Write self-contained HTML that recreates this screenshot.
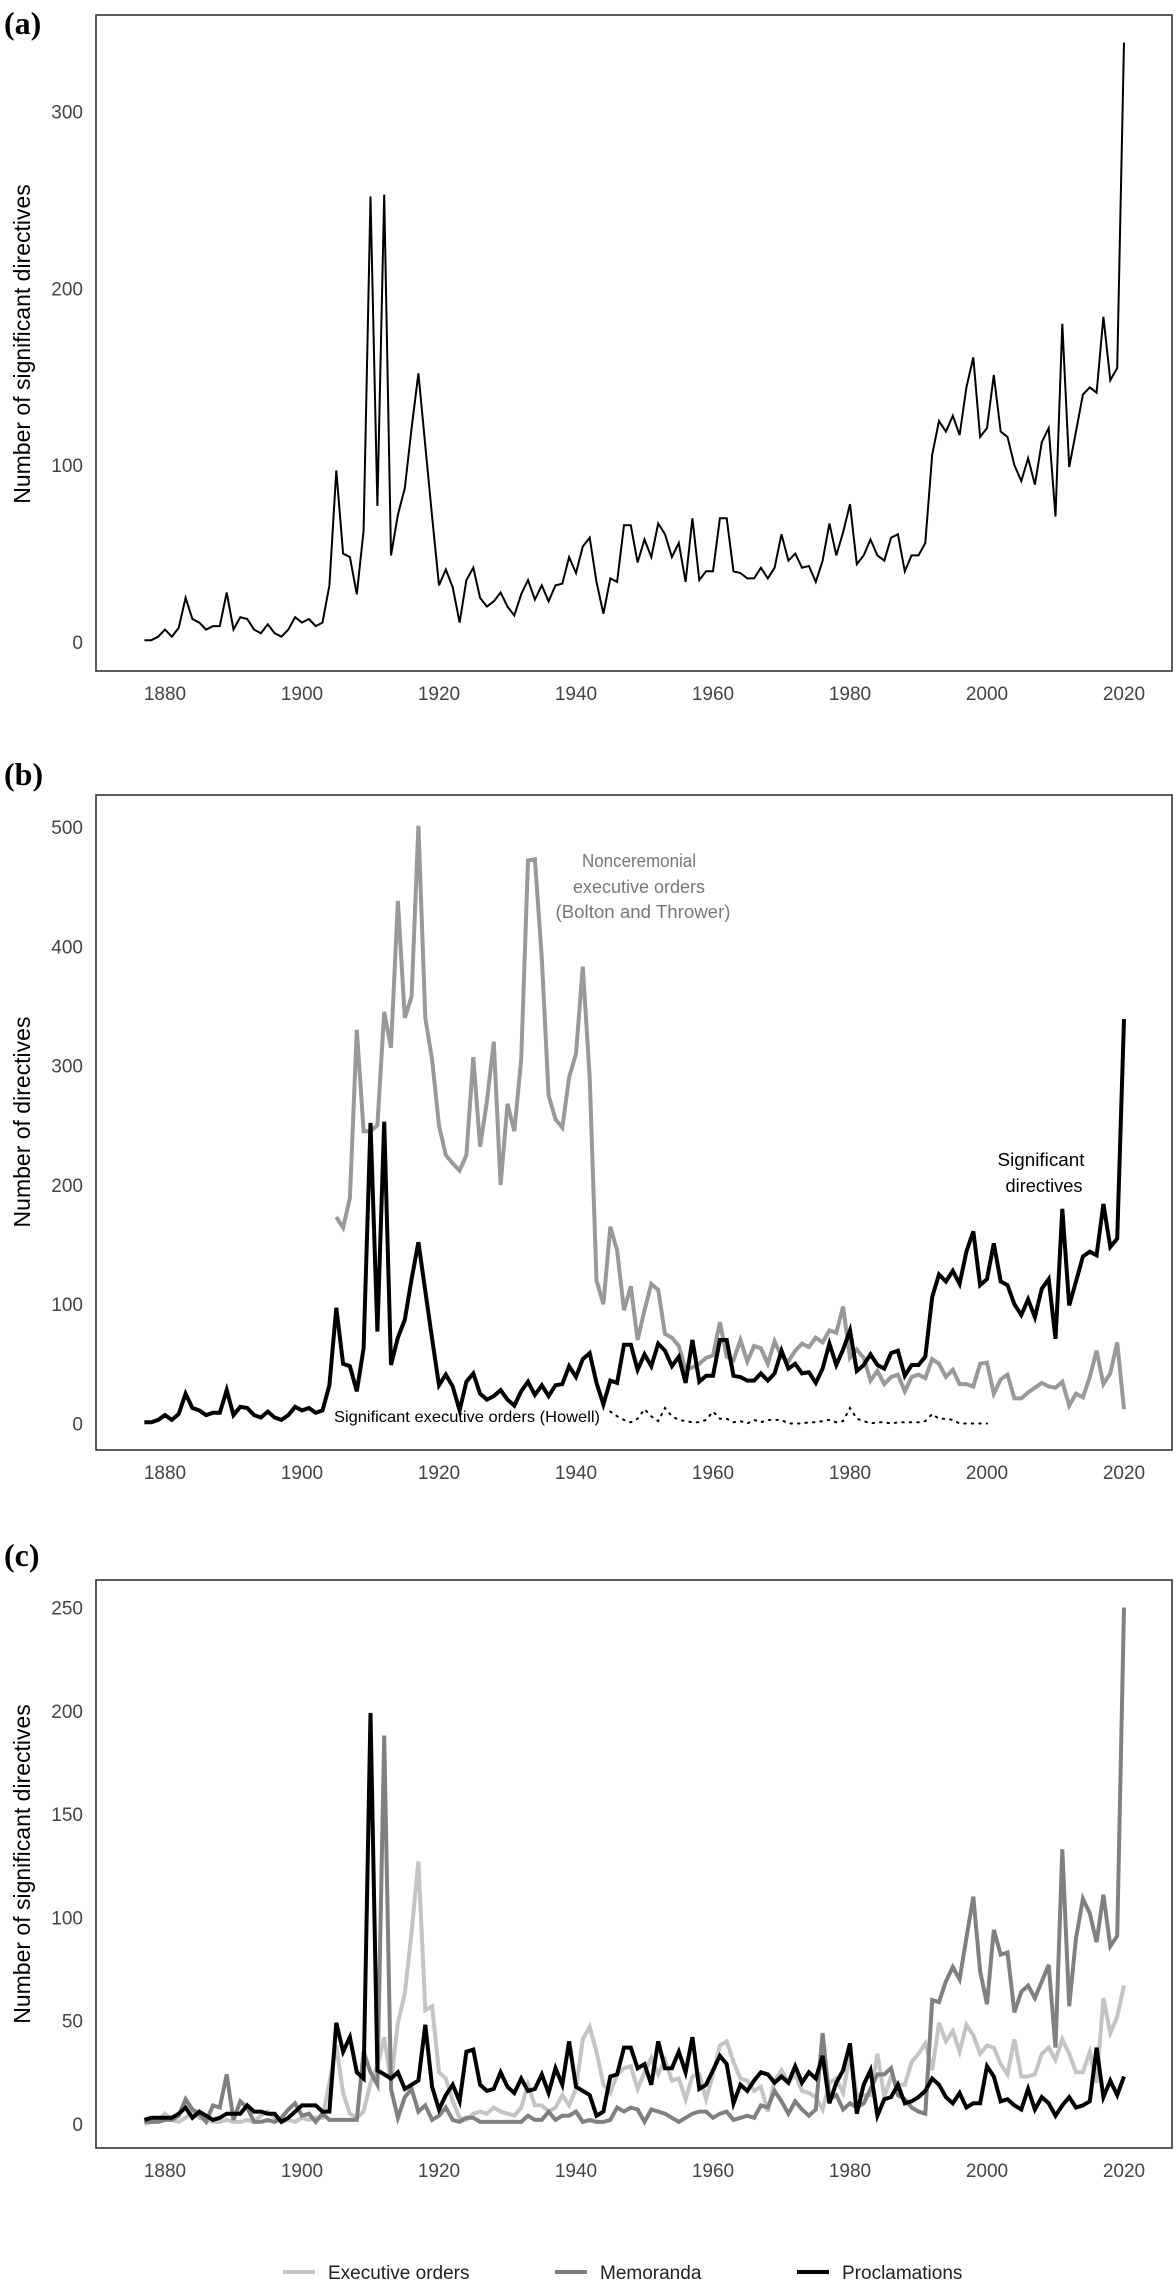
<!DOCTYPE html>
<html><head><meta charset="utf-8"><style>
html,body{margin:0;padding:0;background:#fff}
svg{display:block}
text{font-family:"Liberation Sans",Arial,sans-serif}
text.serif{font-family:"Liberation Serif","Times New Roman",serif}
</style></head><body>
<svg id="chart" width="1176" height="2281" viewBox="0 0 1176 2281" xmlns="http://www.w3.org/2000/svg"></svg>
<script>
const years = [];
for (let y = 1877; y <= 2020; y++) years.push(y);
const significant = [1,1,3,7,3,8,25,13,11,7,9,9,28,7,14,13,7,5,10,5,3,7,14,11,13,9,11,32,97,50,48,27,63,252,77,253,49,72,87,121,152,111,71,32,41,31,11,35,42,25,20,23,28,20,15,27,35,24,32,23,32,33,48,39,54,59,34,16,36,34,66,66,45,58,48,67,61,48,56,34,70,35,40,40,70,70,40,39,36,36,42,36,42,61,46,50,42,43,34,46,67,49,62,78,44,49,58,49,46,59,61,40,49,49,56,106,125,119,128,117,144,161,116,121,151,119,116,100,91,104,89,113,121,71,180,99,119,140,144,141,184,148,155,339];
const boltonYears = [];
for (let y = 1905; y <= 2020; y++) boltonYears.push(y);
const boltonThrower = [173,164,189,330,245,245,250,345,315,438,340,358,501,340,305,250,225,218,212,225,307,232,270,320,200,268,245,305,472,473,390,275,255,248,290,310,383,290,120,100,165,145,95,115,70,95,117,112,75,72,65,45,47,50,55,57,85,56,53,70,52,65,63,50,69,56,52,61,67,64,72,68,78,76,98,55,62,55,36,44,33,39,41,27,39,41,38,54,50,39,45,33,33,31,50,51,25,37,41,21,21,26,30,34,31,30,35,15,25,22,39,61,33,42,68,12];
const howellYears = [];
for (let y = 1945; y <= 2000; y++) howellYears.push(y);
const howell = [10,6,3,1,4,12,6,2,13,6,3,2,1,1,3,10,4,4,1,2,0,3,1,3,3,3,0,0,0,1,1,2,3,1,2,13,4,2,0,1,1,0,1,1,1,1,2,8,4,4,3,0,0,0,0,0];
const execOrders = [0,1,2,5,2,1,3,6,3,2,1,1,2,1,1,2,1,4,6,3,1,2,1,3,2,3,3,20,38,15,5,3,6,20,28,42,20,49,63,93,127,55,57,25,22,11,3,2,5,6,5,8,6,5,4,8,19,9,9,6,8,14,9,17,41,47,35,19,15,24,27,28,17,25,32,24,31,21,22,12,23,24,12,24,38,40,30,22,21,16,18,6,21,26,20,24,16,15,13,7,20,22,15,34,14,14,14,34,13,23,19,19,30,34,39,26,49,40,45,35,48,43,34,38,37,29,24,41,23,23,24,34,37,31,41,34,25,25,35,20,61,44,52,67];
const memoranda = [1,1,1,2,2,4,12,7,5,1,9,8,24,2,11,8,1,1,2,1,3,7,10,4,5,1,5,2,2,2,2,2,35,25,19,188,17,3,13,17,6,9,2,4,8,2,1,3,3,1,1,1,1,1,1,1,4,2,2,6,2,4,4,6,1,2,1,1,2,8,6,8,7,1,7,6,5,3,1,3,5,6,6,3,5,6,2,3,4,3,9,8,16,11,5,11,7,4,7,44,12,14,7,10,8,10,17,24,24,27,14,12,8,6,5,60,59,69,76,70,90,110,74,58,94,82,83,54,64,67,61,69,77,37,133,57,90,109,102,88,111,86,91,250];
const proclamations = [2,3,3,3,3,5,8,3,6,4,2,3,5,5,5,9,6,6,5,5,1,3,6,9,9,9,6,6,49,35,42,25,22,199,26,24,22,25,17,19,21,48,18,7,14,19,11,35,36,19,16,17,25,18,15,22,16,17,24,15,27,19,40,18,16,14,4,6,23,24,37,37,27,29,19,40,27,27,35,25,42,17,19,26,33,29,10,19,16,21,25,24,20,23,20,28,20,25,22,33,10,20,26,39,5,19,26,4,12,13,19,10,11,13,16,22,19,13,10,15,8,10,10,28,23,11,12,9,7,17,7,13,10,4,9,13,8,9,11,37,13,21,14,23];
const xTicks = [1880,1900,1920,1940,1960,1980,2000,2020];
const ticksA = [0,100,200,300];
const ticksB = [0,100,200,300,400,500];
const ticksC = [0,50,100,150,200,250];

const NS = "http://www.w3.org/2000/svg";
const svg = document.getElementById('chart');
function mk(tag, attrs, parent) {
  const e = document.createElementNS(NS, tag);
  for (const k in attrs) e.setAttribute(k, attrs[k]);
  (parent || svg).appendChild(e);
  return e;
}
function xScale(yr) { return 165 + (yr - 1880) * 6.85; }
function makeY(zeroY, pxPerUnit) { return v => zeroY - v * pxPerUnit; }

function panel(cfg) {
  const g = mk('g', {});
  
  
  const box = mk('rect', {x: 96, y: cfg.top, width: 1076, height: cfg.bottom - cfg.top, fill: 'none', stroke: '#333', 'stroke-width': 1.6}, g);
  
  
  const lab = mk('text', {x: 4, y: cfg.labelY, class: 'serif', 'font-weight': 'bold', 'font-size': 32, fill: '#000'}, g);
  lab.textContent = cfg.label;
  
  
  const yt = mk('text', {transform: 'translate(30,' + cfg.titleY + ') rotate(-90)', 'text-anchor': 'middle', 'font-size': 23, fill: '#000'}, g);
  yt.textContent = cfg.yTitle;
  
  
  cfg.yTicks.forEach(t => {
    const tt = mk('text', {x: 83, y: cfg.y(t) + 7, 'text-anchor': 'end', 'font-size': 19, fill: '#444'}, g);
    tt.textContent = t;
    
    
  });
  xTicks.forEach(t => {
    const tt = mk('text', {x: xScale(t), y: cfg.bottom + 29, 'text-anchor': 'middle', 'font-size': 19, fill: '#444'}, g);
    tt.textContent = t;
    
    
  });
  return g;
}
function line(g, xs, vals, y, stroke, w, name, extra) {
  const d = vals.map((v, i) => (i ? 'L' : 'M') + xScale(xs[i]).toFixed(1) + ',' + y(v).toFixed(1)).join(' ');
  const attrs = {d: d, fill: 'none', stroke: stroke, 'stroke-width': w, 'stroke-linejoin': 'miter', 'stroke-miterlimit': 4};
  if (extra) Object.assign(attrs, extra);
  const p = mk('path', attrs, g);
  
  
  return p;
}
function label(g, x, y, txt, size, fill, name, len) {
  const t = mk('text', {x: x, y: y, 'text-anchor': 'middle', 'font-size': size, fill: fill}, g);
  if (len) { t.setAttribute('textLength', len); t.setAttribute('lengthAdjust', 'spacingAndGlyphs'); }
  t.textContent = txt;
  
  
}

// Panel A
const yA = makeY(642, 1.768);
const gA = panel({name: 'panel-a', top: 15, bottom: 671, labelY: 34, label: '(a)', yTitle: 'Number of significant directives', titleY: 344, yTicks: ticksA, y: yA});
line(gA, years, significant, yA, '#000', 2, 'significant-directives-line');

// Panel B
const yB = makeY(1423.5, 1.193);
const gB = panel({name: 'panel-b', top: 795, bottom: 1450, labelY: 785, label: '(b)', yTitle: 'Number of directives', titleY: 1122, yTicks: ticksB, y: yB});
line(gB, boltonYears, boltonThrower, yB, '#999', 4, 'nonceremonial-eo-line');
line(gB, years, significant, yB, '#000', 4, 'significant-directives-line');
line(gB, howellYears, howell, yB, '#000', 2, 'howell-eo-dotted-line', {'stroke-dasharray': '1.5 6', 'stroke-linecap': 'round'});
label(gB, 639, 867, 'Nonceremonial', 18, '#777', 'annotation-nonceremonial', 114);
label(gB, 639, 893, 'executive orders', 18, '#777', 'annotation-nonceremonial', 132);
label(gB, 643, 918, '(Bolton and Thrower)', 18, '#777', 'annotation-nonceremonial', 175);
label(gB, 1041, 1166, 'Significant', 18, '#000', 'annotation-significant', 87);
label(gB, 1044, 1192, 'directives', 18, '#000', 'annotation-significant', 77);
label(gB, 467, 1422, 'Significant executive orders (Howell)', 16, '#000', 'annotation-howell', 266);

// Panel C
const yC = makeY(2124, 2.066);
const gC = panel({name: 'panel-c', top: 1580, bottom: 2148, labelY: 1566, label: '(c)', yTitle: 'Number of significant directives', titleY: 1864, yTicks: ticksC, y: yC});
line(gC, years, execOrders, yC, '#c4c4c4', 4, 'executive-orders-line');
line(gC, years, memoranda, yC, '#808080', 4, 'memoranda-line');
line(gC, years, proclamations, yC, '#000', 4, 'proclamations-line');

// Legend
const legend = mk('g', {});


const legendItems = [['Executive orders', '#c4c4c4', 283], ['Memoranda', '#808080', 555], ['Proclamations', '#000', 797]];
legendItems.forEach(it => {
  const gi = mk('g', {}, legend);
  
  
  mk('line', {x1: it[2], x2: it[2] + 32, y1: 2272, y2: 2272, stroke: it[1], 'stroke-width': 4}, gi);
  const t = mk('text', {x: it[2] + 45, y: 2279, 'font-size': 19, fill: '#222'}, gi);
  t.textContent = it[0];
});
</script>
</body></html>
